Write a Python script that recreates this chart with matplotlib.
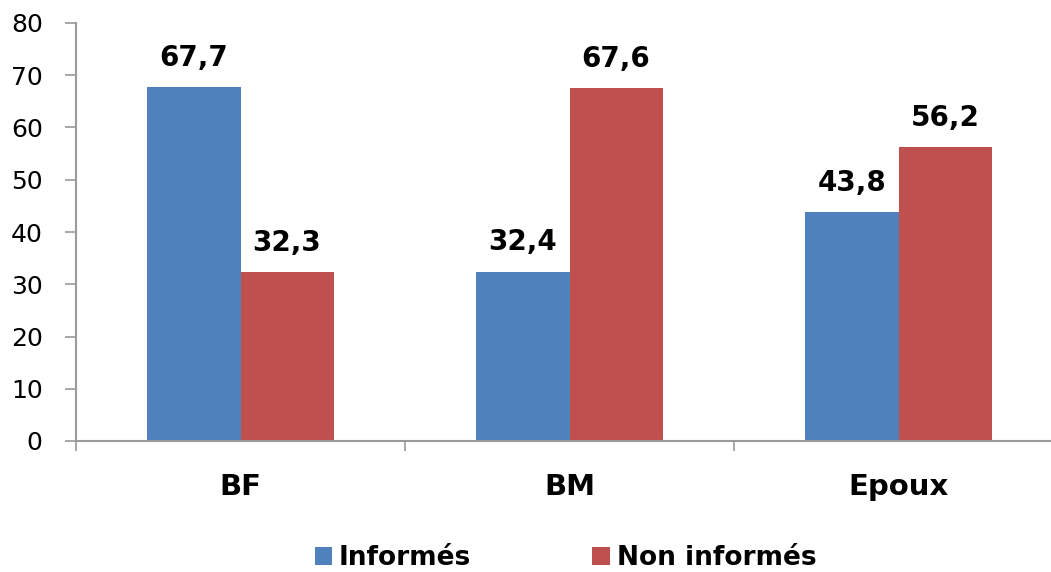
import numpy as np
from matplotlib import pyplot as plt

categories = ['BF', 'BM', 'Epoux']
informes = [67.7, 32.4, 43.8]
non_informes = [32.3, 67.6, 56.2]
series_names = ['Informés', 'Non informés']
yticks = [0, 10, 20, 30, 40, 50, 60, 70, 80]

blue = '#4F81BD'
red = '#C0504D'
grey = '#9a9a9a'

fig = plt.figure(figsize=(10.51, 5.72), dpi=100)
ax = fig.add_axes([76 / 1051, 131 / 572, 987 / 1051, 418 / 572])

x = np.arange(len(categories))
w = 0.283
b1 = ax.bar(x - w / 2, informes, w, color=blue, label=series_names[0])
b2 = ax.bar(x + w / 2, non_informes, w, color=red, label=series_names[1])

for bars, vals in [(b1, informes), (b2, non_informes)]:
    for rect, v in zip(bars, vals):
        ax.annotate(f'{v:.1f}'.replace('.', ','),
                    (rect.get_x() + rect.get_width() / 2, v),
                    xytext=(0, 11), textcoords='offset points',
                    ha='center', va='bottom', fontsize=20, fontweight='bold')

ax.set_xlim(-0.5, 2.5)
ax.set_ylim(0, 80)
ax.set_yticks(yticks)
ax.tick_params(axis='y', direction='out', length=8, width=1.2, color=grey,
               labelsize=18, pad=16)

ax.set_xticks(x)
ax.set_xticklabels(categories, fontsize=21, fontweight='bold')
ax.set_xticks([-0.5, 0.5, 1.5, 2.5], minor=True)
ax.tick_params(axis='x', which='major', length=0, pad=23)
ax.tick_params(axis='x', which='minor', direction='out', length=7, width=1.2, color=grey)

for s in ['top', 'right']:
    ax.spines[s].set_visible(False)
for s in ['left', 'bottom']:
    ax.spines[s].set_color(grey)
    ax.spines[s].set_linewidth(1.5)

fig.legend(loc='center', bbox_to_anchor=(0.538, 0.0245), ncol=2, frameon=False,
           prop={'size': 19, 'weight': 'bold'}, handlelength=0.65, handleheight=0.65,
           handletextpad=0.27, columnspacing=4.6, borderpad=0)

fig.savefig('out.png', dpi=100)
